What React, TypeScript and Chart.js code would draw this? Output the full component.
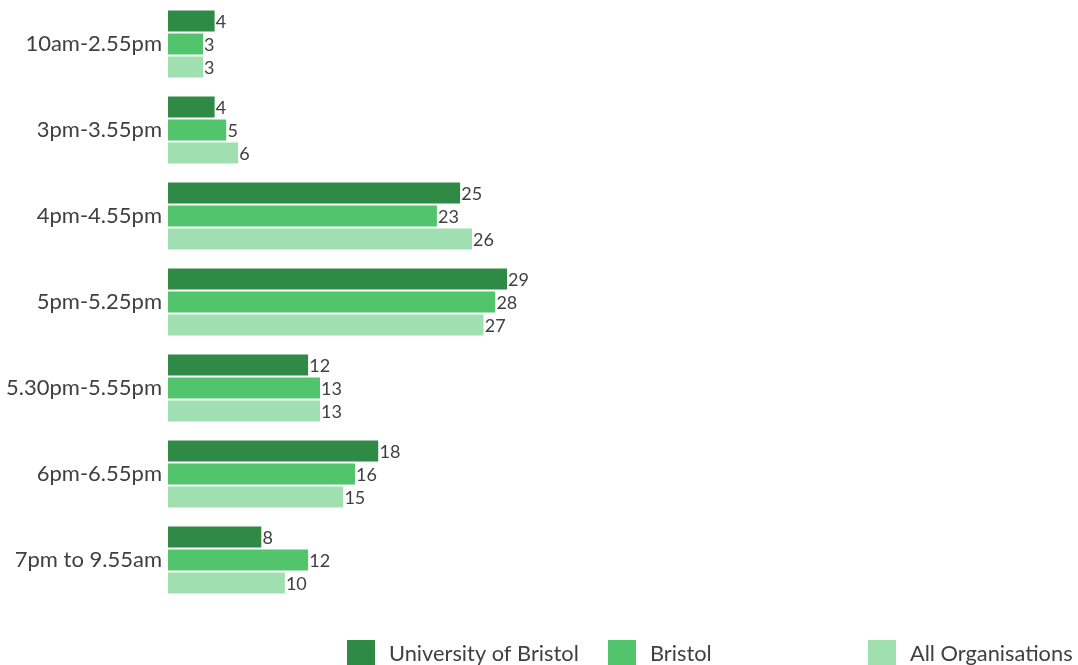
import React, { useEffect, useRef } from "react";
import { Chart, registerables } from "chart.js";

Chart.register(...registerables);

const categories = [
  "10am-2.55pm",
  "3pm-3.55pm",
  "4pm-4.55pm",
  "5pm-5.25pm",
  "5.30pm-5.55pm",
  "6pm-6.55pm",
  "7pm to 9.55am",
];
const seriesNames = ["University of Bristol", "Bristol", "All Organisations"];
const uobValues = [4, 4, 25, 29, 12, 18, 8];
const bristolValues = [3, 5, 23, 28, 13, 16, 12];
const allOrgValues = [3, 6, 26, 27, 13, 15, 10];
const seriesColors = ["#2f8a46", "#52c46c", "#a0dfb0"];

const FONT = "Lato, 'Open Sans', sans-serif";
const TEXT = "#404040";

const valueLabels = {
  id: "valueLabels",
  afterDatasetsDraw(chart: any) {
    const ctx = chart.ctx;
    ctx.save();
    ctx.font = `18px ${FONT}`;
    ctx.fillStyle = TEXT;
    ctx.textAlign = "left";
    ctx.textBaseline = "middle";
    chart.data.datasets.forEach((ds: any, i: number) => {
      const meta = chart.getDatasetMeta(i);
      meta.data.forEach((el: any, j: number) => {
        ctx.fillText(String(ds.data[j]), el.x + 1, el.y + 1);
      });
    });
    ctx.restore();
  },
};

const customLegend = {
  id: "customLegend",
  afterDraw(chart: any) {
    const ctx = chart.ctx;
    ctx.save();
    ctx.font = `21.8px ${FONT}`;
    ctx.textBaseline = "middle";
    ctx.textAlign = "left";
    const starts = [347, 608, 868];
    chart.data.datasets.forEach((ds: any, i: number) => {
      const x = starts[i];
      ctx.fillStyle = ds.backgroundColor;
      ctx.fillRect(x, 640, 28, 25);
      ctx.fillStyle = TEXT;
      ctx.fillText(ds.label, x + 42, 654);
    });
    ctx.restore();
  },
};

export default function App() {
  const ref = useRef<HTMLCanvasElement>(null);
  useEffect(() => {
    const vals = [uobValues, bristolValues, allOrgValues];
    const chart = new Chart(ref.current!, {
      type: "bar",
      data: {
        labels: categories,
        datasets: seriesNames.map((name, i) => ({
          label: name,
          data: vals[i],
          backgroundColor: seriesColors[i],
          borderColor: "#ffffff",
          borderWidth: { top: 1, bottom: 1, left: 0, right: 0 },
          borderSkipped: false,
          barPercentage: 1,
          categoryPercentage: 0.8,
        })),
      },
      options: {
        indexAxis: "y",
        animation: false,
        responsive: false,
        maintainAspectRatio: false,
        layout: { padding: { left: 0, right: 33, top: 1, bottom: 62 } },
        plugins: {
          legend: { display: false },
          tooltip: { enabled: false },
        },
        scales: {
          x: { display: false, min: 0, max: 75 },
          y: {
            grid: { display: false, drawTicks: false },
            border: { display: false },
            ticks: {
              color: TEXT,
              font: { family: FONT, size: 22 },
              padding: 6,
            },
            afterFit(scale: any) {
              scale.width = 168;
              scale.paddingTop = 0;
              scale.paddingBottom = 0;
            },
          },
        },
      } as any,
      plugins: [valueLabels, customLegend],
    });
    return () => chart.destroy();
  }, []);
  return (
    <div style={{ position: "fixed", left: 0, top: 0, width: 1078, height: 665, background: "#fff" }}>
      <canvas ref={ref} width={1078} height={665} style={{ display: "block" }} />
    </div>
  );
}
